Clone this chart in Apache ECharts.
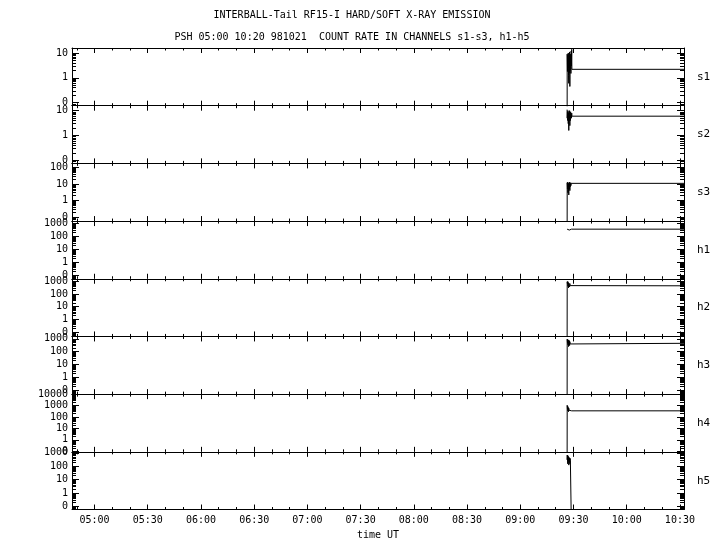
<!DOCTYPE html>
<html><head><meta charset="utf-8">
<script src="https://cdn.jsdelivr.net/npm/echarts@6/dist/echarts.min.js"></script>
<style>html,body{margin:0;padding:0;background:#fff}#c{width:720px;height:550px}</style>
</head><body><div id="c"></div>
<script>
// ---------- data ----------
const titleLine1 = 'INTERBALL-Tail RF15-I HARD/SOFT X-RAY EMISSION';
const titleLine2 = 'PSH 05:00 10:20 981021  COUNT RATE IN CHANNELS s1-s3, h1-h5';
const channels = ['s1','s2','s3','h1','h2','h3','h4','h5'];
// y extents in decades (log10 count rate); lowest decade tick 0.1 is printed as "0"
const yLogMin = [-1.12,-1.12,-1.24,-1.29,-1.33,-1.33,-1.05,-1.24];
const yLogMax = [1.20,1.20,2.25,3.17,3.19,3.19,4.02,3.07];
const yDecades = [
  [0.1,1,10],[0.1,1,10],[0.1,1,10,100],
  [0.1,1,10,100,1000],[0.1,1,10,100,1000],[0.1,1,10,100,1000],
  [0.1,1,10,100,1000,10000],[0.1,1,10,100,1000]
];
// time axis, minutes since 00:00 UT
const xMin = 287.3, xMax = 632.3;
const majorTimes = [300,330,360,390,420,450,480,510,540,570,600,630];
const minorTimes = [290,310,320,340,350,370,380,400,410,430,440,460,470,490,500,520,530,550,560,580,590,610,620];
// burst samples (minutes since 00:00 UT)
const burstTime = [566.40,566.45,566.60,566.75,566.90,567.05,567.20,567.35,567.50,567.65,567.80,567.95,568.10,568.25,568.40,568.55,568.70,568.85,569.00,569.10];
const endTime = 632.3;
const s1 = [0,9,1.8,8,2.5,10,1.2,0.6,9,1.6,11,0.45,7,2,9,1.5,12,3,14,2.2];
const s2 = [11,5,9,4,10,3,8,1.6,9,4,10,2.5,8,4,9,5,7,5,8,6];
const s3 = [0,12,5,13,3,11,6,2.2,12,5,13,4,10,7,12,8,11,9,12,11];
const h1 = [350,400,460,430,380,320,280,260,270,300,330,350,355,350,350,350,350,350,350,350];
const h2 = [0,900,600,950,400,800,300,700,500,850,350,650,450,600,400,500,450,480,440,435];
const h3 = [0,950,500,900,350,750,250,800,450,700,300,600,400,550,420,500,450,460,450,450];
const h4 = [0,1100,500,900,350,700,300,600,400,550,320,450,380,420,360,380,350,360,357,357];
const h5 = [680,300,650,150,600,250,500,120,450,200,400,150,380,250,350,200,300,250,280,0];
const seriesValues = [s1,s2,s3,h1,h2,h3,h4,h5];
const levelAfter = [2.2,6,11,350,435,450,357,null];

// ---------- chart ----------
const FONT = 'DejaVu Sans Mono';
const BLACK = '#000';
const toLog = v => v > 0 ? Math.log10(v) : -5;
const fmtTime = m => { const h = Math.floor(m/60), mm = Math.round(m - h*60); return String(h).padStart(2,'0')+':'+String(mm).padStart(2,'0'); };
const fmtCount = lv => { const v = Math.pow(10, Math.round(lv)); return v < 1 ? '0' : String(Math.round(v)); };

const panelTop = 48, panelH = 57.69;
const grids = [], xAxes = [], yAxes = [], series = [];
const line = {color: BLACK, width: 1};

channels.forEach((ch, i) => {
  const last = i === channels.length - 1;
  grids.push({left: 72, right: 36, top: panelTop + i*panelH, height: panelH, containLabel: false, outerBoundsMode: 'none'});
  const lo = yLogMin[i], hi = yLogMax[i];
  const majors = yDecades[i].map(Math.log10).filter(v => v >= lo - 1e-9 && v <= hi + 1e-9);
  const minors = [];
  const decs = [yDecades[i][0]/10].concat(yDecades[i]);
  decs.forEach(d => { for (let k = 2; k <= 9; k++) { const lv = Math.log10(k*d); if (lv > lo && lv < hi) minors.push(lv); } });

  const bx = {type: 'value', gridIndex: i, min: xMin, max: xMax, splitLine: {show: false}, axisLabel: {show: false}};
  xAxes.push(Object.assign({}, bx, {
    position: 'bottom',
    axisLine: {show: true, onZero: false, lineStyle: line},
    axisTick: {show: true, inside: true, length: 5, customValues: majorTimes, lineStyle: line},
    axisLabel: {show: last, customValues: majorTimes, formatter: fmtTime, margin: 6, color: BLACK, fontFamily: FONT, fontSize: 10},
    name: last ? 'time UT' : '', nameLocation: 'middle', nameGap: 21,
    nameTextStyle: {color: BLACK, fontFamily: FONT, fontSize: 10}
  }));
  xAxes.push(Object.assign({}, bx, {position: 'bottom', axisLine: {show: false, onZero: false},
    axisTick: {show: true, inside: true, length: 2.5, customValues: minorTimes, lineStyle: line}}));
  xAxes.push(Object.assign({}, bx, {position: 'top', axisLine: {show: true, onZero: false, lineStyle: line},
    axisTick: {show: true, inside: true, length: 5, customValues: majorTimes, lineStyle: line}}));
  xAxes.push(Object.assign({}, bx, {position: 'top', axisLine: {show: false, onZero: false},
    axisTick: {show: true, inside: true, length: 2.5, customValues: minorTimes, lineStyle: line}}));

  const by = {type: 'value', gridIndex: i, min: lo, max: hi, splitLine: {show: false}, axisLabel: {show: false}};
  yAxes.push(Object.assign({}, by, {position: 'left',
    axisLine: {show: true, onZero: false, lineStyle: line},
    axisTick: {show: true, inside: true, length: 7, customValues: majors, lineStyle: line},
    axisLabel: {show: true, customValues: majors, formatter: fmtCount, margin: 4, color: BLACK, fontFamily: FONT, fontSize: 10}}));
  yAxes.push(Object.assign({}, by, {position: 'left', axisLine: {show: false, onZero: false},
    axisTick: {show: true, inside: true, length: 4, customValues: minors, lineStyle: line}}));
  yAxes.push(Object.assign({}, by, {position: 'right',
    axisLine: {show: true, onZero: false, lineStyle: line},
    axisTick: {show: true, inside: true, length: 7, customValues: majors, lineStyle: line},
    name: ch, nameLocation: 'middle', nameRotate: 0, nameGap: 13,
    nameTextStyle: {color: BLACK, fontFamily: FONT, fontSize: 11, align: 'left', verticalAlign: 'middle'}}));
  yAxes.push(Object.assign({}, by, {position: 'right', axisLine: {show: false, onZero: false},
    axisTick: {show: true, inside: true, length: 4, customValues: minors, lineStyle: line}}));

  const vals = seriesValues[i];
  const data = burstTime.map((t, k) => [t, toLog(vals[k])]);
  if (levelAfter[i] !== null) data.push([endTime, toLog(levelAfter[i])]);
  series.push({type: 'line', xAxisIndex: 4*i, yAxisIndex: 4*i, data, showSymbol: false, symbol: 'none',
    clip: true, lineStyle: {color: BLACK, width: 1}, silent: true});
});

const chart = echarts.init(document.getElementById('c'), null, {renderer: 'canvas'});
chart.setOption({
  animation: false,
  backgroundColor: '#fff',
  title: [
    {text: titleLine1, left: 352, top: 10, textAlign: 'center', padding: 0, textStyle: {color: BLACK, fontFamily: FONT, fontSize: 10, fontWeight: 'normal'}},
    {text: titleLine2, left: 352, top: 32, textAlign: 'center', padding: 0, textStyle: {color: BLACK, fontFamily: FONT, fontSize: 10, fontWeight: 'normal'}}
  ],
  grid: grids, xAxis: xAxes, yAxis: yAxes, series
});
</script></body></html>
